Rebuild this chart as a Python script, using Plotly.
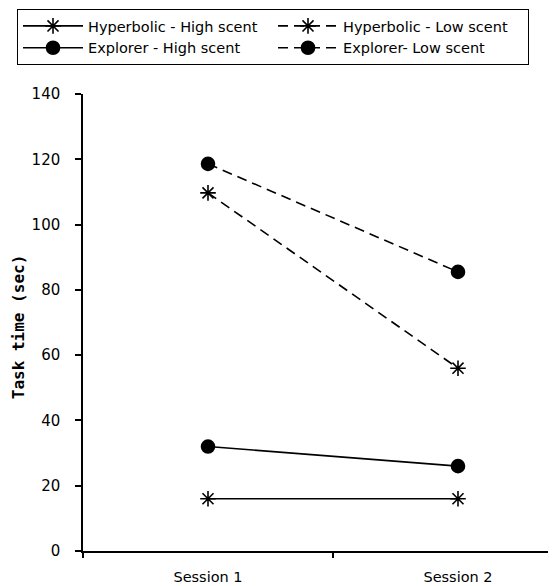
import plotly.graph_objects as go

sessions = ["Session 1", "Session 2"]
hyper_high = [16, 16]
hyper_low = [109.7, 56]
explorer_high = [32, 26]
explorer_low = [118.6, 85.5]

y_ticks = [0, 20, 40, 60, 80, 100, 120, 140]

series = [
    ("Hyperbolic - High scent", hyper_high, "solid", "asterisk-open"),
    ("Hyperbolic - Low scent", hyper_low, "10px,6px", "asterisk-open"),
    ("Explorer - High scent", explorer_high, "solid", "circle"),
    ("Explorer- Low scent", explorer_low, "10px,6px", "circle"),
]

fig = go.Figure()
for name, vals, dash, sym in series:
    fig.add_trace(go.Scatter(
        x=sessions, y=vals, name=name, mode="lines+markers",
        line=dict(color="black", width=1.6, dash=dash),
        marker=dict(symbol=sym, size=13, color="black",
                    line=dict(color="black", width=1.6)),
    ))

FONT = "'DejaVu Sans', sans-serif"

fig.update_layout(
    width=548, height=578,
    margin=dict(l=75, r=3, t=86, b=35, autoexpand=False),
    paper_bgcolor="white", plot_bgcolor="white",
    font=dict(family=FONT, color="black", size=13),
    showlegend=True,
    legend=dict(
        orientation="h", x=-0.1404, xanchor="left", y=1.186, yanchor="top",
        bordercolor="black", borderwidth=1, bgcolor="white",
        font=dict(size=14.5, family=FONT),
        entrywidth=180, entrywidthmode="pixels",
        itemwidth=60, tracegroupgap=0,
    ),
    xaxis=dict(
        type="category", range=[-0.5, 1.38], tickson="boundaries",
        ticks="outside", ticklen=5, tickwidth=1.5, tickcolor="black",
        showline=True, linecolor="black", linewidth=1.5,
        showgrid=False, zeroline=False,
        tickfont=dict(size=14.5), ticklabelstandoff=12,
    ),
    yaxis=dict(
        range=[0, 140], tickvals=y_ticks,
        ticks="outside", ticklen=6, tickwidth=1.5, tickcolor="black",
        showline=True, linecolor="black", linewidth=1.5,
        showgrid=False, zeroline=False,
        tickfont=dict(size=15), ticklabelstandoff=12,
    ),
    annotations=[dict(
        text="<b>Task time (sec)</b>", textangle=-90,
        xref="paper", yref="paper", x=-0.138, y=0.49,
        xanchor="center", yanchor="middle",
        showarrow=False, font=dict(family="'DejaVu Sans Mono', monospace", size=16),
    )],
)

fig.write_html("out.html")
